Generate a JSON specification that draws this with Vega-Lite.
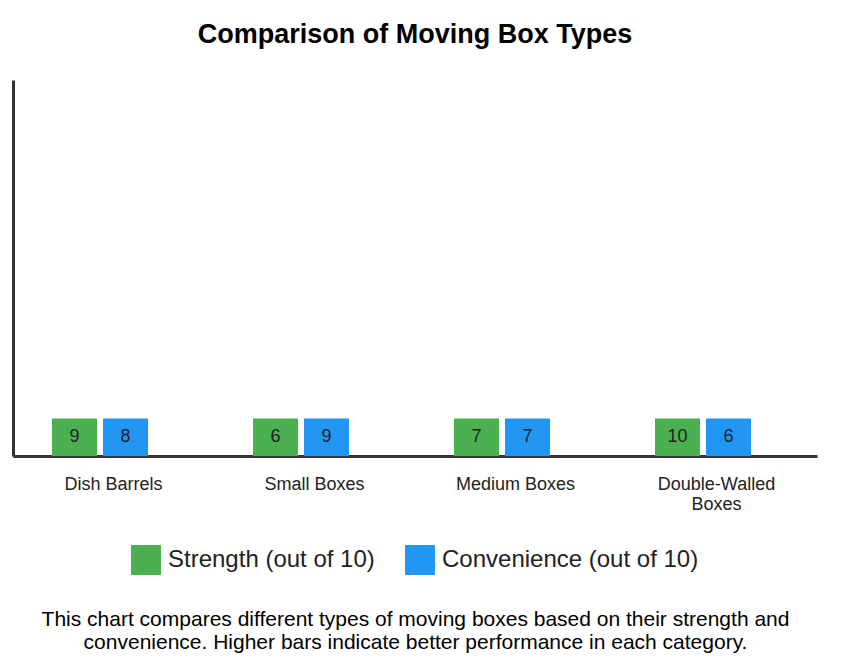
{
  "$schema": "https://vega.github.io/schema/vega-lite/v6.json",
  "autosize": {"type": "none"},
  "width": 804,
  "height": 376,
  "padding": {"left": 13, "top": 80, "right": 24, "bottom": 214},
  "background": "white",
  "config": {
    "font": "Liberation Sans",
    "view": {"stroke": null}
  },
  "title": {
    "text": "Comparison of Moving Box Types",
    "fontSize": 27,
    "fontWeight": "bold",
    "color": "#000000",
    "anchor": "middle",
    "offset": 31
  },
  "data": {
    "values": [
      {"box": "Dish Barrels", "metric": "Strength (out of 10)", "value": 9},
      {"box": "Dish Barrels", "metric": "Convenience (out of 10)", "value": 8},
      {"box": "Small Boxes", "metric": "Strength (out of 10)", "value": 6},
      {"box": "Small Boxes", "metric": "Convenience (out of 10)", "value": 9},
      {"box": "Medium Boxes", "metric": "Strength (out of 10)", "value": 7},
      {"box": "Medium Boxes", "metric": "Convenience (out of 10)", "value": 7},
      {"box": "Double-Walled Boxes", "metric": "Strength (out of 10)", "value": 10},
      {"box": "Double-Walled Boxes", "metric": "Convenience (out of 10)", "value": 6}
    ]
  },
  "encoding": {
    "x": {
      "field": "box",
      "type": "nominal",
      "sort": ["Dish Barrels", "Small Boxes", "Medium Boxes", "Double-Walled Boxes"],
      "scale": {"paddingInner": 0, "paddingOuter": 0},
      "axis": {
        "title": ["This chart compares different types of moving boxes based on their strength and", "convenience. Higher bars indicate better performance in each category."],
        "titleFontSize": 21,
        "titleFontWeight": "normal",
        "titleColor": "#000000",
        "titleLineHeight": 23,
        "titlePadding": 95,
        "labelAngle": 0,
        "labelFontSize": 18,
        "labelColor": "#222222",
        "labelPadding": 19,
        "labelLineHeight": 20,
        "labelLimit": 0,
        "labelExpr": "datum.label == 'Double-Walled Boxes' ? ['Double-Walled', 'Boxes'] : datum.label",
        "ticks": false,
        "tickSize": 0,
        "domainColor": "#333333",
        "domainWidth": 3,
        "grid": false
      }
    },
    "xOffset": {
      "field": "metric",
      "type": "nominal",
      "sort": ["Strength (out of 10)", "Convenience (out of 10)"],
      "scale": {"range": [39, 135], "paddingInner": 0.1176, "paddingOuter": 0}
    }
  },
  "layer": [
    {
      "mark": {"type": "bar"},
      "encoding": {
        "y": {
          "datum": 1,
          "type": "quantitative",
          "scale": {"domain": [0, 10]},
          "axis": {
            "title": null,
            "labels": false,
            "ticks": false,
            "grid": false,
            "domainColor": "#333333",
            "domainWidth": 3
          }
        },
        "color": {
          "field": "metric",
          "type": "nominal",
          "sort": ["Strength (out of 10)", "Convenience (out of 10)"],
          "scale": {"range": ["#4CAF50", "#2196F3"]},
          "legend": {
            "title": null,
            "orient": "none",
            "direction": "horizontal",
            "legendX": 118,
            "legendY": 465,
            "padding": 0,
            "symbolType": "square",
            "symbolSize": 900,
            "symbolStrokeWidth": 0,
            "symbolOpacity": 1,
            "labelFontSize": 24,
            "labelLimit": 0,
            "labelColor": "#222222",
            "labelOffset": 7,
            "columnPadding": 30
          }
        }
      }
    },
    {
      "mark": {"type": "text", "fontSize": 18, "color": "#222222", "baseline": "middle", "align": "center"},
      "encoding": {
        "y": {"datum": 0.5, "type": "quantitative"},
        "text": {"field": "value", "type": "quantitative"}
      }
    }
  ]
}
